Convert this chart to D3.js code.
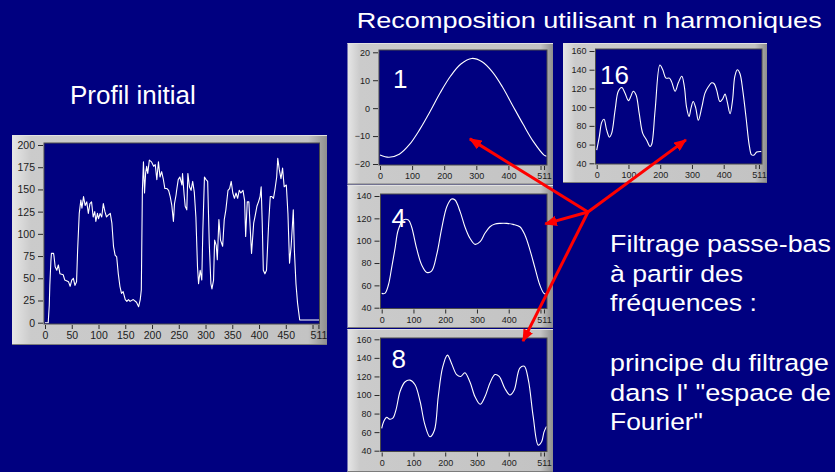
<!DOCTYPE html>
<html>
<head>
<meta charset="utf-8">
<script src="https://cdn.jsdelivr.net/npm/d3@7"></script>
<style>
	html, body { margin: 0; padding: 0; background: #000080; }
	svg { display: block; }
</style>
</head>
<body>
<svg id="chart"></svg>
<script>
	// data: [sample index, level]
	var profile = [[0,0],[6,0],[8,20],[9,42],[11,69],[12,78],[16,78],[17,74],[19,63],[22,59],[25,65],[28,55],[34,54],[37,48],[44,46],[47,41],[50,48],[53,50],[56,42],[59,46],[61,82],[64,123],[67,138],[69,129],[72,142],[75,132],[78,136],[81,123],[84,134],[87,136],[90,119],[93,125],[95,114],[98,123],[100,117],[103,123],[106,119],[109,134],[112,125],[115,119],[118,121],[122,123],[125,112],[128,86],[131,76],[134,74],[137,55],[140,41],[143,33],[146,35],[150,26],[153,24],[156,26],[159,24],[165,26],[171,23],[175,18],[178,26],[180,37],[182,149],[184,181],[186,146],[188,168],[190,176],[192,168],[195,183],[199,181],[203,176],[206,178],[209,161],[212,181],[215,164],[218,170],[221,162],[224,151],[228,151],[231,149],[234,142],[237,132],[240,114],[242,134],[245,144],[246,149],[249,161],[252,164],[256,155],[257,168],[260,144],[262,131],[265,127],[267,168],[270,153],[273,149],[276,159],[279,147],[282,119],[285,63],[287,44],[290,59],[293,48],[295,104],[298,164],[301,161],[304,159],[307,89],[310,44],[312,38],[315,48],[317,93],[320,87],[322,71],[325,116],[328,93],[332,86],[335,116],[338,127],[342,149],[345,151],[348,159],[351,146],[354,140],[357,146],[360,140],[363,149],[366,146],[370,149],[373,138],[375,97],[378,136],[381,136],[385,89],[386,78],[390,112],[393,121],[396,131],[399,136],[402,142],[404,153],[406,112],[408,59],[411,55],[414,59],[418,112],[421,142],[424,142],[427,140],[430,151],[433,164],[435,185],[438,172],[441,162],[444,174],[447,153],[451,155],[454,123],[457,67],[460,86],[463,116],[464,127],[466,82],[469,44],[472,22],[476,3],[513,3]];

	var harm1 = [[0,-16.8],[28,-17.6],[60,-16.5],[92,-13.0],[124,-7.6],[156,-1.2],[188,5.6],[220,11.5],[252,15.8],[286,17.8],[318,16.6],[350,13.0],[382,7.5],[414,0.8],[446,-5.8],[478,-12.0],[511,-16.8],[519,-17.2]];

	var harm4 = [[0,52.8],[10,52.8],[21,60.3],[31,75.2],[42,93.1],[52,109.6],[68,118.5],[84,118.5],[94,112.5],[110,93.1],[126,78.2],[142,71.6],[157,72.8],[173,87.2],[189,111],[205,130.4],[220,137.3],[231,136.4],[247,126],[262,112.5],[278,102.1],[294,96.7],[310,99.1],[325,106.6],[341,112.5],[357,114.9],[373,115.5],[394,115.5],[414,114.6],[435,112.5],[451,105.1],[467,91.6],[483,75.2],[498,60.3],[511,52.8],[519,52]];

	var harm8 = [[0,64],[7,72],[16,76],[24,74],[35,75],[45,84],[58,104],[73,114],[89,116],[105,111],[121,93],[136,68],[152,55],[166,62],[178,98],[192,130],[207,143],[220,134],[236,122],[249,120],[262,124],[278,114],[294,98],[310,90],[325,98],[341,113],[357,122],[370,120],[388,107],[404,100],[417,105],[435,129],[449,131],[462,116],[477,77],[493,46],[504,50],[511,60],[519,66]];

	var harm16 = [[0,54],[8,68],[16,84],[23,87],[31,76],[40,68],[47,72],[58,97],[68,117],[79,121],[89,115],[100,107],[107,111],[115,117],[124,113],[134,93],[145,72],[157,65],[168,58],[173,60],[184,97],[199,145],[208,140],[218,131],[229,131],[236,127],[247,117],[257,126],[268,133],[276,122],[283,100],[291,90],[297,99],[304,106],[312,99],[320,86],[331,100],[341,115],[352,122],[362,126],[370,125],[378,118],[388,106],[397,109],[404,114],[411,106],[420,93],[428,108],[435,133],[443,140],[451,136],[460,118],[470,90],[481,58],[488,49],[496,49],[504,52],[519,52.5]];

	// tick values
	var mainXTicks = [0, 50, 100, 150, 200, 250, 300, 350, 400, 450, 500, 511];
	var smallXTicks = [0, 100, 200, 300, 400, 500, 511];
	var hiddenXLabels = [500];
	var mainYTicks = [0, 25, 50, 75, 100, 125, 150, 175, 200];
	var yTicks1 = [-20, -10, 0, 10, 20];
	var yTicks4 = [40, 60, 80, 100, 120, 140];
	var yTicks160 = [40, 60, 80, 100, 120, 140, 160];

	var titleText = 'Recomposition utilisant n harmoniques';
	var leftText = 'Profil initial';
	var noteLines = ['Filtrage passe-bas', 'à partir des', 'fréquences :', '', 'principe du filtrage', 'dans l\' "espace de', 'Fourier"'];
	var noteWidths = [221, 133, 147, 0, 219, 221, 93];

	///////////////////////////////////////////////////////////////////////////
	var width = 835, height = 472;
	var navy = '#000080';
	var font = '"Liberation Sans", Arial, Helvetica, sans-serif';

	var svg = d3.select('#chart').attr('width', width).attr('height', height);
	svg.append('rect').attr('width', width).attr('height', height).attr('fill', navy);

	var defs = svg.append('defs');
	var grad = defs.append('linearGradient').attr('id', 'frameGrad');
	[[0, '#e6e6e6'], [0.06, '#cbcbcb'], [0.94, '#c3c3c3'], [1, '#8e8e8e']].forEach(s => {
		grad.append('stop').attr('offset', s[0]).attr('stop-color', s[1]);
	});
	defs.append('marker')
		.attr('id', 'arrow')
		.attr('viewBox', '0 0 12 10')
		.attr('refX', 11).attr('refY', 5)
		.attr('markerWidth', 4.2).attr('markerHeight', 3.5)
		.attr('orient', 'auto')
		.append('path')
		.attr('d', 'M0,0 L12,5 L0,10 Z')
		.attr('fill', '#ff0000');

	var panels = [
		{ id: 'main', data: profile, frame: [12, 135, 315, 210], plot: [44, 143, 275.5, 181],
			xMax: 513, xRange: [45, 319.5], yDomain: [0, 200], yRange: [322.7, 145],
			xTicks: mainXTicks, yTicks: mainYTicks, fontSize: 10.5, curve: d3.curveLinear },
		{ id: 'h1', data: harm1, frame: [347.5, 43, 205.5, 141.5], plot: [379, 50, 168, 115],
			xMax: 519, xRange: [380, 546.6], yDomain: [-20, 20], yRange: [164, 52.3],
			xTicks: smallXTicks, yTicks: yTicks1, fontSize: 9, curve: d3.curveCatmullRom,
			label: '1', labelPos: [393, 88] },
		{ id: 'h16', data: harm16, frame: [563, 43, 204, 140], plot: [595.5, 49, 166.5, 115],
			xMax: 519, xRange: [596.7, 761.5], yDomain: [40, 160], yRange: [163.3, 51],
			xTicks: smallXTicks, yTicks: yTicks160, fontSize: 9, curve: d3.curveCatmullRom,
			label: '16', labelPos: [600, 84] },
		{ id: 'h4', data: harm4, frame: [347.5, 185, 205.5, 143], plot: [380.5, 194, 166.5, 114.5],
			xMax: 519, xRange: [381.7, 546.5], yDomain: [40, 140], yRange: [307.7, 196],
			xTicks: smallXTicks, yTicks: yTicks4, fontSize: 9, curve: d3.curveCatmullRom,
			label: '4', labelPos: [391.5, 227] },
		{ id: 'h8', data: harm8, frame: [347.5, 329, 205.5, 143], plot: [380.5, 338, 166.5, 113.5],
			xMax: 519, xRange: [381.7, 546.5], yDomain: [40, 160], yRange: [450.7, 339.3],
			xTicks: smallXTicks, yTicks: yTicks160, fontSize: 9, curve: d3.curveCatmullRom,
			label: '8', labelPos: [391.5, 368] }
	];

	panels.forEach(drawPanel);

	function drawPanel(p) {
		var g = svg.append('g').attr('class', 'panel ' + p.id);
		var f = p.frame, r = p.plot;

		// grey LabVIEW-like frame
		g.append('rect')
			.attr('x', f[0]).attr('y', f[1]).attr('width', f[2]).attr('height', f[3])
			.attr('fill', 'url(#frameGrad)');
		g.append('line')
			.attr('x1', f[0]).attr('x2', f[0] + f[2])
			.attr('y1', f[1] + 0.5).attr('y2', f[1] + 0.5)
			.attr('stroke', '#e2e2e2');
		g.append('line')
			.attr('x1', f[0]).attr('x2', f[0] + f[2])
			.attr('y1', f[1] + f[3] - 0.5).attr('y2', f[1] + f[3] - 0.5)
			.attr('stroke', '#7c7c7c');

		g.append('rect')
			.attr('x', r[0]).attr('y', r[1]).attr('width', r[2]).attr('height', r[3])
			.attr('fill', navy)
			.attr('stroke', '#4a4a4a').attr('stroke-width', 1);

		var x = d3.scaleLinear().domain([0, p.xMax]).range(p.xRange);
		var y = d3.scaleLinear().domain(p.yDomain).range(p.yRange);

		var yAxis = d3.axisLeft(y).tickValues(p.yTicks).tickSize(5).tickPadding(3);
		var xAxis = d3.axisBottom(x).tickValues(p.xTicks).tickSize(4).tickPadding(3)
			.tickFormat(d => hiddenXLabels.indexOf(d) >= 0 ? '' : d);

		g.append('g')
			.attr('transform', 'translate(' + (r[0] - 1) + ',0)')
			.call(yAxis)
			.call(styleAxis, p.fontSize);
		g.append('g')
			.attr('transform', 'translate(0,' + (r[1] + r[3] + 1) + ')')
			.call(xAxis)
			.call(styleAxis, p.fontSize);

		var clipId = 'clip-' + p.id;
		defs.append('clipPath').attr('id', clipId)
			.append('rect')
			.attr('x', r[0] + 0.5).attr('y', r[1] + 0.5)
			.attr('width', r[2] - 1).attr('height', r[3] - 1);

		var line = d3.line()
			.x(d => x(d[0]))
			.y(d => y(d[1]))
			.curve(p.curve);

		g.append('path')
			.datum(p.data)
			.attr('clip-path', 'url(#' + clipId + ')')
			.attr('fill', 'none')
			.attr('stroke', '#ffffff')
			.attr('stroke-width', 1.1)
			.attr('stroke-linejoin', 'round')
			.attr('d', line);

		if (p.label) {
			g.append('text')
				.attr('x', p.labelPos[0]).attr('y', p.labelPos[1])
				.attr('font-family', font).attr('font-size', 26)
				.attr('fill', '#ffffff')
				.text(p.label);
		}
		p.x = x;
		p.y = y;
	}

	function styleAxis(sel, size) {
		sel.select('.domain').remove();
		sel.selectAll('.tick line').attr('stroke', '#2a2a2a');
		sel.selectAll('.tick text')
			.attr('fill', '#1c1c1c')
			.attr('font-family', font)
			.attr('font-size', size);
	}

	// titles
	svg.append('text')
		.attr('x', 356.7).attr('y', 28.3)
		.attr('font-family', font).attr('font-size', 22)
		.attr('fill', '#ffffff')
		.attr('textLength', 465).attr('lengthAdjust', 'spacingAndGlyphs')
		.text(titleText);

	svg.append('text')
		.attr('x', 70).attr('y', 104.3)
		.attr('font-family', font).attr('font-size', 26)
		.attr('fill', '#ffffff')
		.text(leftText);

	var note = svg.append('g').attr('class', 'note');
	noteLines.forEach((t, i) => {
		if (!t) return;
		note.append('text')
			.attr('x', 610).attr('y', 252 + i * 29.7)
			.attr('font-family', font).attr('font-size', 24.5)
			.attr('fill', '#ffffff')
			.attr('textLength', noteWidths[i]).attr('lengthAdjust', 'spacingAndGlyphs')
			.text(t);
	});

	// red arrows from the note towards the reconstructions
	var origin = [588, 212];
	var byId = {};
	panels.forEach(p => byId[p.id] = p);
	var targets = [['h1', 280, -11], ['h16', 281, 65], ['h4', 515, 115], ['h8', 445, 158]];
	svg.append('g').attr('class', 'arrows')
		.selectAll('line')
		.data(targets)
		.enter().append('line')
		.attr('x1', origin[0]).attr('y1', origin[1])
		.attr('x2', d => byId[d[0]].x(d[1]))
		.attr('y2', d => byId[d[0]].y(d[2]))
		.attr('stroke', '#ff0000')
		.attr('stroke-width', 3)
		.attr('marker-end', 'url(#arrow)');
</script>
</body>
</html>
